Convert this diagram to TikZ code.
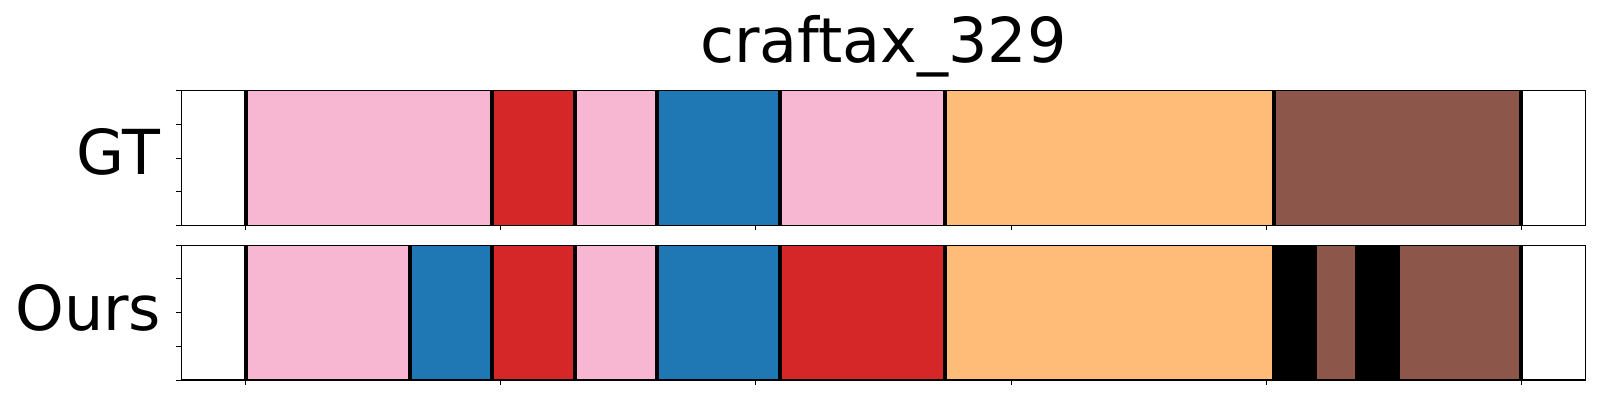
\documentclass[tikz,border=0pt]{standalone}
\usepackage{fontspec}
\setmainfont{DejaVu Sans}
\usetikzlibrary{positioning}
\definecolor{segpink}{HTML}{F7B6D2}
\definecolor{segred}{HTML}{D62728}
\definecolor{segblue}{HTML}{1F77B4}
\definecolor{segorange}{HTML}{FFBB78}
\definecolor{segbrown}{HTML}{8C564B}
\definecolor{segblack}{HTML}{000000}

\begin{document}
\begin{tikzpicture}[x=1pt, y=1pt,
    axbox/.style={minimum width=1404.4pt, minimum height=134.8pt, inner sep=0pt, outer sep=0pt},
    axline/.style={line width=1.1pt},
    rowlabel/.style={font=\fontsize{62}{70}\selectfont, inner sep=0pt},
    bound/.style={line width=4pt},
    tickmark/.style={line width=1pt}
]
    \useasboundingbox (0,0) rectangle (1600,400);

    \node[axbox] (gt axis) at (883.5,242) {};
    \node[axbox, below=19.8pt of gt axis] (ours axis) {};

    \foreach \a/\b/\c in {245.7/492/segpink, 492/575.3/segred, 575.3/657/segpink,
        657/780/segblue, 780/945/segpink, 945/1274/segorange, 1274/1521/segbrown}
        \fill[\c] (\a,0 |- gt axis.south) rectangle (\b,0 |- gt axis.north);
    \foreach \x in {245.7,492,575.3,657,780,945,1274,1521}
        \draw[bound] (\x,0 |- gt axis.south) -- (\x,0 |- gt axis.north);

    \foreach \a/\b/\c in {245.7/410/segpink, 410/492/segblue, 492/575.3/segred,
        575.3/657/segpink, 657/780/segblue, 780/945/segred, 945/1272/segorange,
        1272/1317/segblack, 1317/1355/segbrown, 1355/1400/segblack, 1400/1521/segbrown}
        \fill[\c] (\a,0 |- ours axis.south) rectangle (\b,0 |- ours axis.north);
    \foreach \x in {245.7,410,492,575.3,657,780,945,1521}
        \draw[bound] (\x,0 |- ours axis.south) -- (\x,0 |- ours axis.north);

    \foreach \u [evaluate=\u as \tx using 245.7+255.1*\u] in {0,...,5} {
        \draw[tickmark] (\tx,0 |- gt axis.south) -- ++(0,-5);
        \draw[tickmark] (\tx,0 |- ours axis.south) -- ++(0,-5);
    }
    \foreach \v in {0,...,4} {
        \draw[tickmark] (gt axis.south west) ++(0,33.7*\v) -- ++(-5,0);
        \draw[tickmark] (ours axis.south west) ++(0,33.7*\v) -- ++(-5,0);
    }

    \draw[axline] (gt axis.south west) rectangle (gt axis.north east);
    \draw[axline] (ours axis.south west) rectangle (ours axis.north east);

    \node[rowlabel, left=21pt of gt axis.west, yshift=6pt] (gt label) {GT};
    \node[rowlabel, left=20pt of ours axis.west, yshift=5pt] (ours label) {Ours};
    \node[rowlabel, anchor=base] (title) at (gt axis.north |- 0,337.3) {craftax\_329};
\end{tikzpicture}
\end{document}
